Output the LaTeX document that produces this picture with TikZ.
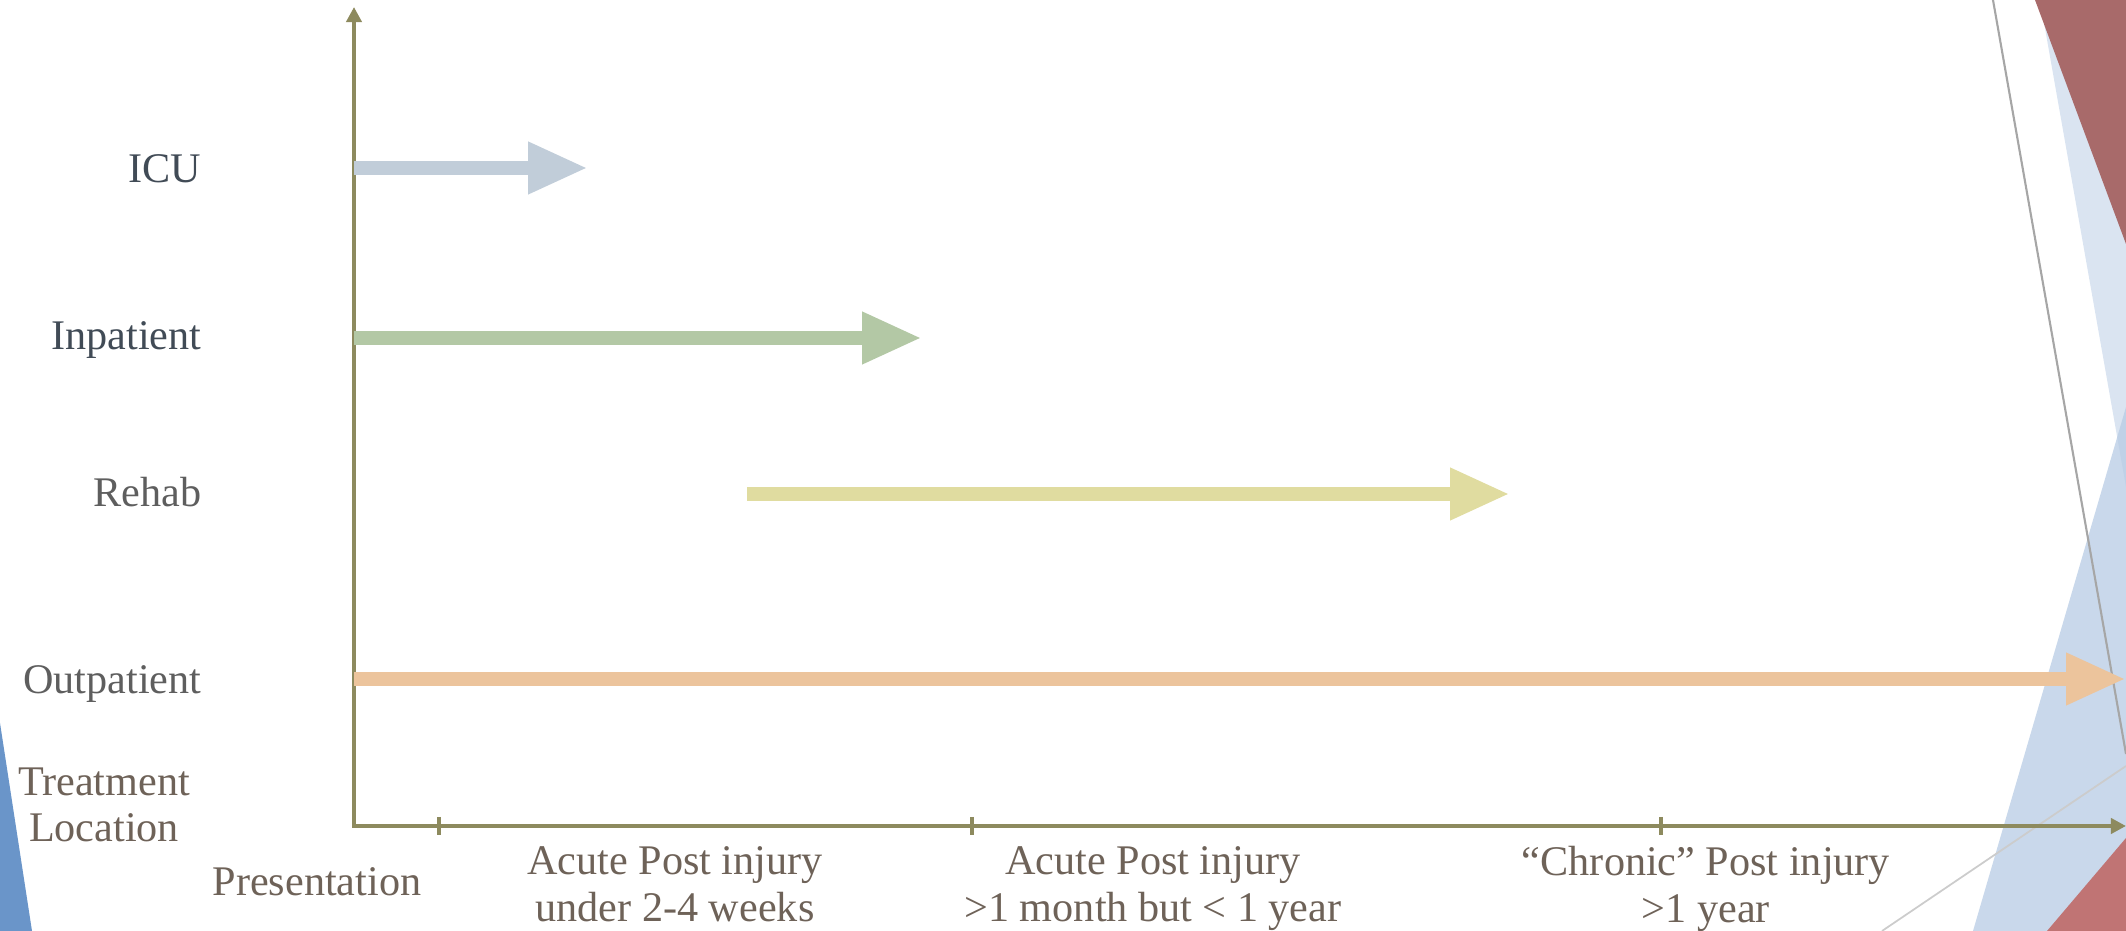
\documentclass[tikz,border=0pt]{standalone}
\usepackage{fontspec}
\setmainfont{Liberation Serif}
\usetikzlibrary{arrows.meta}

\definecolor{axisolive}{HTML}{8D8A5E}
\definecolor{icublue}{HTML}{C1CDD9}
\definecolor{inpatgreen}{HTML}{B3C8A5}
\definecolor{rehabyellow}{HTML}{E0DCA0}
\definecolor{outpatorange}{HTML}{ECC49C}
\definecolor{slatetext}{HTML}{414B56}
\definecolor{graytext}{HTML}{5E5E5E}
\definecolor{browntext}{HTML}{6E6258}
\definecolor{darkrose}{HTML}{A86A6A}
\definecolor{lightrose}{HTML}{C07474}
\definecolor{paleblue}{HTML}{DAE4F1}
\definecolor{midblue}{RGB}{183,203,228}
\definecolor{deepblue}{HTML}{6A95C9}

\begin{document}
\begin{tikzpicture}[x=0.01cm,y=-0.01cm,
    lbl/.style={font=\fontsize{12}{13.2}\selectfont, inner sep=0pt},
    band/.style={line width=4.2pt, -{Triangle[length=17pt,width=13.7pt]}},
    axis/.style={draw=axisolive, line width=1.4pt},
    tickmark/.style={draw=axisolive, line width=0.9pt}]
    \useasboundingbox (0,0) rectangle (2126,931);

    % corner shapes
    \fill[paleblue] (2040,0) -- (2126,0) -- (2126,487) -- cycle;
    \fill[darkrose] (2035,0) -- (2126,0) -- (2126,244) -- cycle;
    \fill[midblue, opacity=0.75] (2126,407) -- (2126,931) -- (1973,931) -- cycle;
    \fill[lightrose] (2126,838) -- (2126,931) -- (2047,931) -- cycle;
    \fill[deepblue] (0,723) -- (32,931) -- (0,931) -- cycle;
    \draw[gray!70, line width=0.6pt] (1993,0) -- (2126,754);
    \draw[gray!40, line width=0.5pt] (1882,931) -- (2126,766);

    % axes
    \coordinate (orig) at (354,826);
    \coordinate (ytip) at (354,7);
    \coordinate (xtip) at (2126,826);
    \draw[axis, {Triangle[length=4.3pt,width=4.3pt]}-{Triangle[length=4.3pt,width=4.3pt]}]
        (ytip) -- (orig) -- (xtip);
    \foreach \x in {439,972,1661}
        \draw[tickmark] (\x,817) -- (\x,835);

    % location bands
    \coordinate (icu s) at (354,168);   \coordinate (icu e) at (588,168);
    \coordinate (inpat s) at (354,338); \coordinate (inpat e) at (922,338);
    \coordinate (rehab s) at (747,494); \coordinate (rehab e) at (1510,494);
    \coordinate (outpat s) at (354,679); \coordinate (outpat e) at (2126,679);
    \draw[band, draw=icublue, fill=icublue] (icu s) -- (icu e);
    \draw[band, draw=inpatgreen, fill=inpatgreen] (inpat s) -- (inpat e);
    \draw[band, draw=rehabyellow, fill=rehabyellow] (rehab s) -- (rehab e);
    \draw[band, draw=outpatorange, fill=outpatorange] (outpat s) -- (outpat e);

    % row labels
    \node[lbl, text=slatetext, anchor=base east] (icu) at (202,183) {ICU};
    \node[lbl, text=slatetext, anchor=base east] (inpat) at (202,350) {Inpatient};
    \node[lbl, text=graytext, anchor=base east] (rehab) at (202,507) {Rehab};
    \node[lbl, text=graytext, anchor=base east] (outpat) at (202,694) {Outpatient};
    \node[lbl, text=browntext, align=center, anchor=north] (loc) at (104,767) {Treatment\\Location};

    % time labels
    \node[lbl, text=browntext, anchor=base] (pres) at (317,896) {Presentation};
    \node[lbl, text=browntext, align=center, anchor=north] (acute1) at (675,846)
        {Acute Post injury\\under 2-4 weeks};
    \node[lbl, text=browntext, align=center, anchor=north] (acute2) at (1153,846)
        {Acute Post injury\\>1 month but < 1 year};
    \node[lbl, text=browntext, align=center, anchor=north] (chronic) at (1706,846)
        {“Chronic” Post injury\\>1 year};
\end{tikzpicture}
\end{document}
